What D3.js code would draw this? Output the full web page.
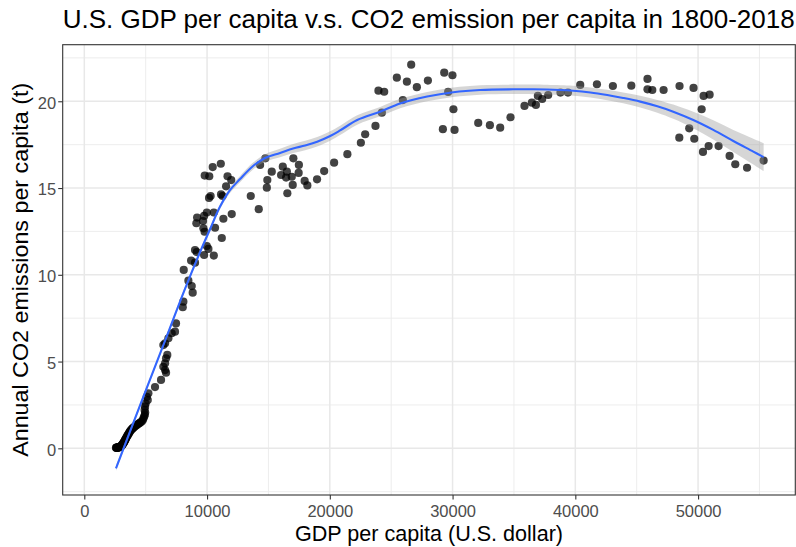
<!DOCTYPE html>
<html>
<head>
<meta charset="utf-8">
<script src="https://cdn.jsdelivr.net/npm/d3@7"></script>
<style>
  html, body { margin: 0; padding: 0; background: #ffffff; }
  svg { display: block; font-family: "Liberation Sans", Arial, Helvetica, sans-serif; }
</style>
</head>
<body>
<svg id="chart" width="796" height="547"></svg>
<script>
// GDP per capita (U.S. dollar) for each year
const gdpPerCapita = [
  2580,2610,2630,2670,2690,2710,2750,2770,2800,2830,2850,2880,2910,2930,2960,2990,
  3020,3040,3070,3100,3120,3150,3180,3200,3240,3260,3280,3320,3350,3380,3420,3460,3500,3540,3580,3630,
  3680,3720,3770,3830,3890,3950,4020,4090,4160,4250,4330,4410,4490,4580,4680,4770,4820,4880,4930,4960,
  4910,4950,5000,5170,5090,5220,5760,6250,6660,6580,6440,6580,6660,6760,6440,6580,6850,7120,7390,7470,
  8020,8070,8830,8750,8480,8100,8700,9020,9020,9160,9980,10110,9760,10550,11200,
  9980,10550,9760,9190,9130,9670,9700,9800,11330,12010,10650,11120,10460,9810,10180,11670,11970,11550,11140,11260,
  10160,10290,13560,14210,14750,14320,15270,14910,14870,16170,16500,16030,16440,16900,17030,17480,17460,16980,16540,17950,
  18170,18960,19540,20350,21430,22530,22880,23720,24240,23960,24430,25460,26280,26630,27090,27990,25950,29320,29990,29640,
  30070,29210,30160,32090,33040,33880,34720,35860,36460,36790,36950,37300,37790,38790,39400,40400,41760,43060,44560,45880,
  45880,46270,47190,48490,49630,50450,50940,50290,49280,48470,49690,50400,50860,51670,52570,53030,53990,55340
];

// Annual CO2 emissions per capita (t) for the same years
const co2PerCapita = [
  0.03,0.04,0.02,0.05,0.03,0.05,0.04,0.06,0.05,0.07,0.06,0.09,0.08,0.10,0.12,0.12,
  0.14,0.16,0.18,0.20,0.24,0.26,0.29,0.33,0.35,0.39,0.42,0.47,0.51,0.55,0.61,0.66,0.71,0.76,0.81,0.86,
  0.92,0.97,1.02,1.07,1.12,1.16,1.20,1.24,1.29,1.33,1.37,1.41,1.45,1.50,1.54,1.63,1.73,1.83,1.93,2.06,
  2.21,2.40,2.58,2.78,2.97,3.17,3.53,3.94,4.36,4.51,4.70,4.90,5.19,5.38,5.95,6.05,6.34,6.63,6.72,7.20,
  8.13,8.45,8.97,9.35,9.66,10.28,10.82,10.70,11.43,11.31,11.66,11.49,11.14,11.11,12.12,
  13.59,13.59,13.39,13.30,12.97,13.10,12.68,12.48,13.23,13.50,12.71,16.40,16.21,15.72,15.68,15.68,15.46,15.10,14.63,14.54,
  14.43,14.54,14.54,13.78,16.71,16.33,15.94,15.46,15.02,16.23,15.94,15.75,15.60,15.65,16.71,16.33,15.87,15.18,14.70,15.41,
  15.15,15.50,15.98,16.46,16.95,17.61,18.10,18.58,19.34,20.61,20.55,21.36,21.13,22.11,20.81,21.19,20.07,21.65,21.50,20.54,
  19.54,18.39,18.35,18.75,18.62,18.48,19.08,19.73,19.92,19.79,20.31,20.13,20.36,20.50,20.50,20.94,20.98,20.88,20.90,21.29,
  20.69,20.65,20.65,20.88,20.77,20.31,20.38,19.54,18.44,17.90,17.84,17.08,17.42,17.42,16.85,16.37,16.17,16.58
];

// Loess smoother: fitted values and half-width of the 95% confidence band
const smoothGdp = [2580,4540,6580,8210,9430,10250,11060,11880,12690,13750,14730,15950,17010,17990,18970,20030,20840,22230,
  24100,25730,27930,30050,32250,34940,36570,38770,39830,41220,42600,43900,45290,46680,47980,49610,51240,52870,54500,55340];
const smoothCo2 = [-1.15,2.47,6.2,9.2,11.31,12.64,13.93,14.89,15.52,16.27,16.73,17.02,17.28,17.45,17.67,18.0,18.32,18.92,
  19.4,19.87,20.27,20.52,20.65,20.69,20.69,20.65,20.61,20.51,20.36,20.19,19.98,19.71,19.4,18.92,18.35,17.71,17.1,16.78];
const smoothSe = [0.16,0.13,0.12,0.12,0.12,0.13,0.14,0.16,0.18,0.2,0.22,0.24,0.26,0.27,0.27,0.27,0.27,0.27,
  0.27,0.27,0.27,0.27,0.27,0.27,0.28,0.28,0.29,0.29,0.3,0.31,0.34,0.37,0.41,0.47,0.55,0.63,0.74,0.81];

// Axis breaks
const xMajorTicks = [0, 10000, 20000, 30000, 40000, 50000];
const xMinorTicks = [5000, 15000, 25000, 35000, 45000, 55000];
const yMajorTicks = [0, 5, 10, 15, 20];
const yMinorTicks = [-2.5, 2.5, 7.5, 12.5, 17.5, 22.5];

const chartTitle = "U.S. GDP per capita v.s. CO2 emission per capita in 1800-2018";
const xTitle = "GDP per capita (U.S. dollar)";
const yTitle = "Annual CO2 emissions per capita (t)";

const svg = d3.select("#chart");
const panel = { left: 62.7, right: 795.3, top: 44.7, bottom: 495 };

const x = d3.scaleLinear().domain([-1760, 57920]).range([panel.left, panel.right]);
const y = d3.scaleLinear().domain([-2.69, 23.26]).range([panel.bottom, panel.top]);

svg.append("rect").attr("width", 796).attr("height", 547).attr("fill", "#ffffff");

svg.append("defs").append("clipPath").attr("id", "panel-clip")
  .append("rect")
  .attr("x", panel.left).attr("y", panel.top)
  .attr("width", panel.right - panel.left).attr("height", panel.bottom - panel.top);

// Grid lines (minor first, then major)
const grid = svg.append("g");
grid.selectAll("line.xminor").data(xMinorTicks).join("line")
  .attr("x1", d => x(d)).attr("x2", d => x(d))
  .attr("y1", panel.top).attr("y2", panel.bottom)
  .attr("stroke", "#ebebeb").attr("stroke-width", 0.9);
grid.selectAll("line.yminor").data(yMinorTicks).join("line")
  .attr("x1", panel.left).attr("x2", panel.right)
  .attr("y1", d => y(d)).attr("y2", d => y(d))
  .attr("stroke", "#ebebeb").attr("stroke-width", 0.9);
grid.selectAll("line.xmajor").data(xMajorTicks).join("line")
  .attr("x1", d => x(d)).attr("x2", d => x(d))
  .attr("y1", panel.top).attr("y2", panel.bottom)
  .attr("stroke", "#e8e8e8").attr("stroke-width", 1.5);
grid.selectAll("line.ymajor").data(yMajorTicks).join("line")
  .attr("x1", panel.left).attr("x2", panel.right)
  .attr("y1", d => y(d)).attr("y2", d => y(d))
  .attr("stroke", "#e8e8e8").attr("stroke-width", 1.5);

const plot = svg.append("g").attr("clip-path", "url(#panel-clip)");

// Scatter points
const points = d3.zip(gdpPerCapita, co2PerCapita);
plot.append("g").selectAll("circle").data(points).join("circle")
  .attr("cx", d => x(d[0]))
  .attr("cy", d => y(d[1]))
  .attr("r", 4.1)
  .attr("fill", "#000000")
  .attr("fill-opacity", 0.74);

// Confidence band and smoothed line
const smooth = d3.zip(smoothGdp, smoothCo2, smoothSe);
plot.append("path").datum(smooth)
  .attr("d", d3.area()
    .x(d => x(d[0]))
    .y0(d => y(d[1] - d[2]))
    .y1(d => y(d[1] + d[2]))
    .curve(d3.curveCatmullRom))
  .attr("fill", "#999999").attr("fill-opacity", 0.4);

plot.append("path").datum(smooth)
  .attr("d", d3.line()
    .x(d => x(d[0]))
    .y(d => y(d[1]))
    .curve(d3.curveCatmullRom))
  .attr("fill", "none").attr("stroke", "#3366ff").attr("stroke-width", 2.1);

// Panel border
svg.append("rect")
  .attr("x", panel.left).attr("y", panel.top)
  .attr("width", panel.right - panel.left).attr("height", panel.bottom - panel.top)
  .attr("fill", "none").attr("stroke", "#333333").attr("stroke-width", 1.1);

// Axes
const xAxis = svg.append("g")
  .attr("transform", `translate(0,${panel.bottom})`)
  .call(d3.axisBottom(x).tickValues(xMajorTicks).tickFormat(d3.format("d")).tickSize(4.5).tickPadding(5.5));
const yAxis = svg.append("g")
  .attr("transform", `translate(${panel.left},0)`)
  .call(d3.axisLeft(y).tickValues(yMajorTicks).tickFormat(d3.format("d")).tickSize(4.5).tickPadding(2));

[xAxis, yAxis].forEach(g => {
  g.select(".domain").remove();
  g.selectAll(".tick line").attr("stroke", "#333333").attr("stroke-width", 1.1);
  g.selectAll(".tick text")
    .attr("fill", "#4d4d4d")
    .attr("font-size", "16.5px")
    .attr("font-family", "'Liberation Sans', Arial, Helvetica, sans-serif");
});
yAxis.selectAll(".tick text").attr("dy", "0.42em");

// Titles
svg.append("text")
  .attr("x", panel.left).attr("y", 28)
  .attr("font-size", "25px").attr("fill", "#000000")
  .attr("textLength", 732).attr("lengthAdjust", "spacingAndGlyphs")
  .text(chartTitle);

svg.append("text")
  .attr("x", (panel.left + panel.right) / 2).attr("y", 541)
  .attr("text-anchor", "middle")
  .attr("font-size", "21.5px").attr("fill", "#000000")
  .attr("textLength", 268).attr("lengthAdjust", "spacingAndGlyphs")
  .text(xTitle);

svg.append("text")
  .attr("transform", `translate(28,${(panel.top + panel.bottom) / 2}) rotate(-90)`)
  .attr("text-anchor", "middle")
  .attr("font-size", "21.5px").attr("fill", "#000000")
  .attr("textLength", 374).attr("lengthAdjust", "spacingAndGlyphs")
  .text(yTitle);
</script>
</body>
</html>
